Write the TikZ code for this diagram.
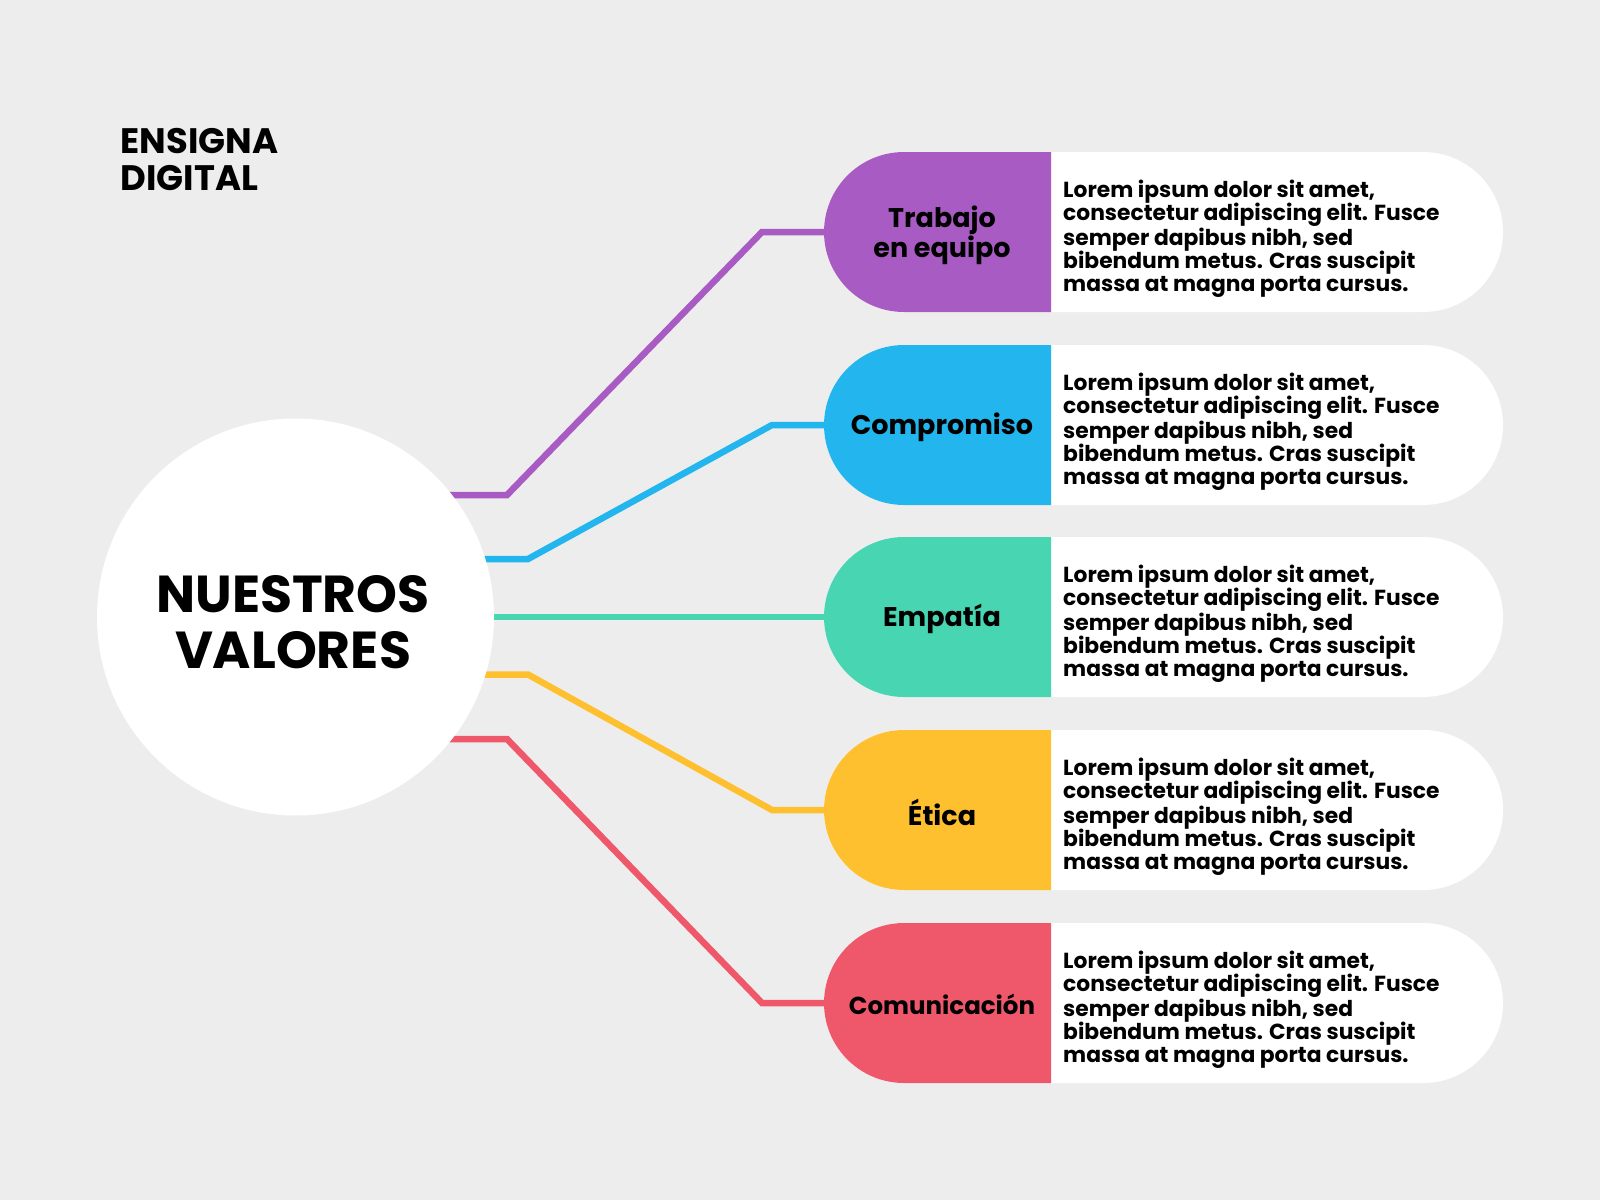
\documentclass[tikz,border=0pt]{standalone}
\usepackage{fontspec}
\setmainfont{Poppins}
\usetikzlibrary{shapes.misc}
\pgfdeclarelayer{back}
\pgfdeclarelayer{lines}
\pgfsetlayers{back,lines,main}
\definecolor{bg}{HTML}{EDEDED}
\definecolor{cpur}{HTML}{A95BC4}
\definecolor{cblue}{HTML}{22B5EE}
\definecolor{cgreen}{HTML}{47D6B1}
\definecolor{cyell}{HTML}{FEC02F}
\definecolor{cred}{HTML}{EF576B}
\begin{document}
\begin{tikzpicture}[x=1pt,y=-1pt,
  pill/.style={rounded rectangle, minimum width=679pt, minimum height=160pt, inner sep=0pt},
  lab/.style={align=center, inner sep=0pt},
  body/.style={anchor=west, align=left, inner sep=0pt, font=\bfseries\fontsize{21.8}{23.3}\selectfont},
  conn/.style={line width=6.5pt},
  bigcircle/.style={circle, fill=white, minimum size=397pt, inner sep=0pt},
  title/.style={align=center, inner sep=0pt, font=\bfseries\fontsize{52}{56}\selectfont},
  brand/.style={anchor=north west, align=left, inner sep=0pt, font=\bfseries\fontsize{35.4}{37.5}\selectfont}]
\useasboundingbox (0,0) rectangle (1600,1200);
\begin{pgfonlayer}{back}
\fill[bg] (0,0) rectangle (1600,1200);
\end{pgfonlayer}

\node[brand] (brand) at (120.5,128) {ENSIGNA\\DIGITAL};

\node[bigcircle] (c) at (295.5,617) {};
\node[title] (ttl) at (293,621.7) {NUESTROS\\VALORES};

\foreach \i/\yy/\col/\dy/\fs/\lab in {1/232/cpur/3/27/{Trabajo\\en equipo},2/425/cblue/2/27/{Compromiso},3/617/cgreen/2/27/{Empatía},4/810/cyell/2/27/{Ética},5/1003/cred/1.5/24.5/{Comunicación}}{
  \node[pill, fill=white] (p\i) at (1163.5,\yy) {};
  \begin{scope}
    \clip (800,{\yy-90}) rectangle (1051,{\yy+90});
    \node[pill, fill=\col] at (1163.5,\yy) {};
  \end{scope}
  \node[lab, font=\bfseries\fontsize{\fs}{30}\selectfont] (l\i) at (942,{\yy+\dy}) {\lab};
  \node[body] (t\i) at (1063,{\yy+7}) {Lorem ipsum dolor sit amet,\\consectetur adipiscing elit. Fusce\\semper dapibus nibh, sed\\bibendum metus. Cras suscipit\\massa at magna porta cursus.};
}

\begin{pgfonlayer}{lines}
\draw[conn, cpur] (c.center) ++(130,-122) -- (507,495) -- (762,232) -- (p1.west);
\draw[conn, cblue] (c.center) ++(170,-58) -- (528,559) -- (772,425) -- (p2.west);
\draw[conn, cgreen] (c.center) -- (p3.west);
\draw[conn, cyell] (c.center) ++(170,57.5) -- (528,674.5) -- (772,810) -- (p4.west);
\draw[conn, cred] (c.center) ++(130,122) -- (507,739) -- (762,1003) -- (p5.west);
\end{pgfonlayer}
\end{tikzpicture}
\end{document}
